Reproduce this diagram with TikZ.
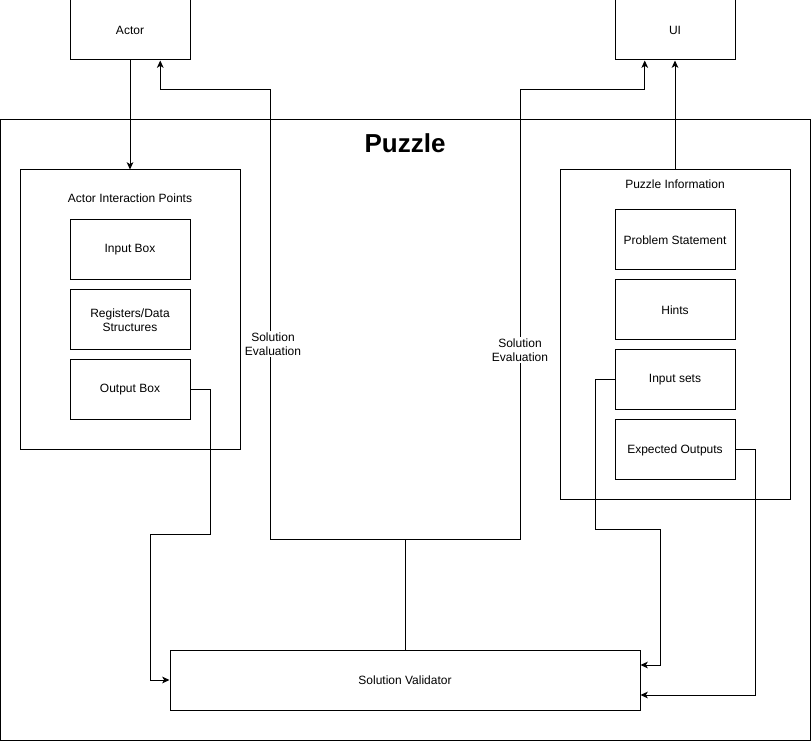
\documentclass[tikz,border=0pt]{standalone}
\usepackage{fontspec}
\setmainfont{Liberation Sans}
\usetikzlibrary{positioning, arrows, arrows.meta, calc}
\tikzstyle{box}=[draw=black, line width=0.75pt, inner sep=0pt, minimum width=90pt,
  minimum height=45pt, align=center, font=\fontsize{9}{10.5}\selectfont]
\tikzstyle{frame}=[draw=black, line width=0.75pt, inner sep=0pt]
\tikzstyle{wire}=[draw=black, line width=0.75pt]
\tikzstyle{arrow}=[->, >={Stealth[length=5.5pt, width=5pt, inset=1.5pt]}, draw=black, line width=0.75pt]
\tikzstyle{lbl}=[fill=white, inner sep=1pt, align=center, font=\fontsize{9}{10.5}\selectfont]
\tikzstyle{caption}=[inner sep=0pt, font=\fontsize{9}{10.5}\selectfont]

\begin{document}
\begin{tikzpicture}[x=0.75pt, y=-0.75pt]
      \useasboundingbox (0,0) rectangle (811,741);

      % outer boxes
      \node[frame, minimum width=607.5pt, minimum height=465pt] (puzzle) at (405,430) {};
      \node[inner sep=0pt, font=\fontsize{19.5}{22}\selectfont\bfseries] (title) at (405,143) {Puzzle};

      \node[box] (actor) at (130,30) {Actor};
      \node[box] (ui) at (675,30) {UI};

      % actor side
      \node[frame, minimum width=165pt, minimum height=210pt] (aip) at (130,310) {};
      \node[caption] (aiptxt) at (130,198) {Actor Interaction Points};
      \node[box] (inbox) at (130,250) {Input Box};
      \node[box] (regs) at (130,320) {Registers/Data\\Structures};
      \node[box] (outbox) at (130,390) {Output Box};

      % puzzle information side
      \node[frame, minimum width=172.5pt, minimum height=247.5pt] (pinfo) at (675,335) {};
      \node[caption] (pinfotxt) at (675,184) {Puzzle Information};
      \node[box] (problem) at (675,240) {Problem Statement};
      \node[box] (hints) at (675,310) {Hints};
      \node[box] (insets) at (675,380) {Input sets};
      \node[box] (expout) at (675,450) {Expected Outputs};

      \node[box, minimum width=352.5pt] (validator) at (405,680) {Solution Validator};

      % bends
      \coordinate (split) at (405,540);
      \coordinate (jL) at (270,540);
      \coordinate (jR) at (520,540);
      \coordinate (topL) at (270,90);
      \coordinate (topR) at (520,90);
      \coordinate (oA) at (210,535);
      \coordinate (oB) at (150,535);
      \coordinate (iA) at (595,530);
      \coordinate (iB) at (660,530);
      \coordinate (eA) at (755,695);

      \draw[arrow] (actor) -- (aip);
      \draw[arrow] (pinfo) -- (ui);

      \draw[wire] (validator.north) -- (split);
      \draw[arrow] (split) -- (jL) -- (topL)
        -| ($(actor.south)!0.5!(actor.south east)$);
      \draw[arrow] (split) -- (jR) -- (topR)
        -| ($(ui.south west)!0.5!(ui.south)$);

      \draw[arrow] (outbox.east) -| (oA) -- (oB) |- (validator.west);
      \draw[arrow] (insets.west) -| (iA) -- (iB) |- ($(validator.east)+(0,-15)$);
      \draw[arrow] (expout.east) -| (eA) -- ($(validator.east)+(0,15)$);

      \node[lbl] (evalL) at (273,344) {Solution\\Evaluation};
      \node[lbl] (evalR) at (520,350) {Solution\\Evaluation};
    \end{tikzpicture}
\end{document}
